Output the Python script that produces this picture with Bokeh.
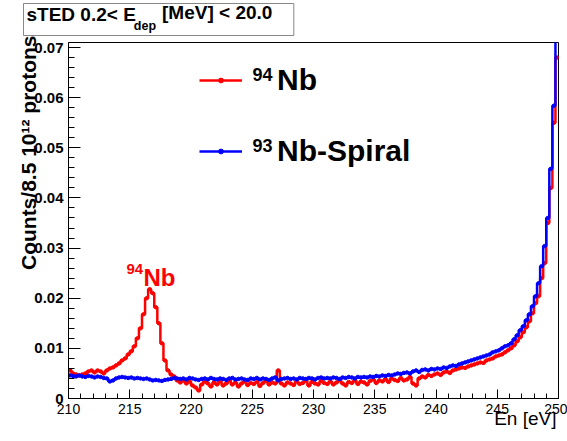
import numpy as np
from bokeh.plotting import figure
from bokeh.models import (Label, Legend, LegendItem, Range1d, Title,
                          SingleIntervalTicker, ColumnDataSource)
from bokeh.embed import file_html
from bokeh.resources import INLINE

# Histogram binning (neutron energy, eV)
e_low, e_high, bin_width = 210.0, 250.0, 0.25

# Counts per 8.5e12 protons, one value per 0.25 eV bin starting at 210 eV
nb94 = [
    0.0056, 0.0050, 0.0048, 0.0046, 0.0048, 0.0050, 0.0054, 0.0056, 0.0052, 0.0056, 0.0054, 0.0050,
    0.0056, 0.0060, 0.0062, 0.0066, 0.0070, 0.0076, 0.0080, 0.0088, 0.0094, 0.0104, 0.0120, 0.0140,
    0.0168, 0.0200, 0.0218, 0.0210, 0.0182, 0.0150, 0.0110, 0.0076, 0.0056, 0.0048, 0.0044, 0.0036,
    0.0032, 0.0036, 0.0030, 0.0034, 0.0026, 0.0022, 0.0016, 0.0028, 0.0034, 0.0030, 0.0024, 0.0032,
    0.0028, 0.0034, 0.0026, 0.0030, 0.0036, 0.0028, 0.0032, 0.0024, 0.0030, 0.0034, 0.0027, 0.0031,
    0.0029, 0.0033, 0.0025, 0.0031, 0.0035, 0.0028, 0.0032, 0.0030, 0.0056, 0.0030, 0.0026, 0.0032,
    0.0030, 0.0027, 0.0034, 0.0029, 0.0031, 0.0036, 0.0026, 0.0033, 0.0030, 0.0028, 0.0035, 0.0031,
    0.0029, 0.0034, 0.0028, 0.0032, 0.0037, 0.0030, 0.0026, 0.0033, 0.0031, 0.0036, 0.0029, 0.0034,
    0.0032, 0.0028, 0.0035, 0.0038, 0.0031, 0.0036, 0.0034, 0.0039, 0.0033, 0.0040, 0.0037, 0.0035,
    0.0041, 0.0036, 0.0038, 0.0043, 0.0030, 0.0026, 0.0040, 0.0044, 0.0042, 0.0047, 0.0045, 0.0048,
    0.0050, 0.0047, 0.0052, 0.0054, 0.0051, 0.0056, 0.0058, 0.0060, 0.0062, 0.0061, 0.0064, 0.0066,
    0.0068, 0.0070, 0.0072, 0.0071, 0.0076, 0.0078, 0.0080, 0.0084, 0.0086, 0.0088, 0.0092, 0.0096,
    0.0100, 0.0106, 0.0114, 0.0122, 0.0132, 0.0142, 0.0154, 0.0170, 0.0190, 0.0204, 0.0240, 0.0270,
    0.0350, 0.0420, 0.0550, 0.0680,
]

nb93_spiral = [
    0.0046, 0.0045, 0.0044, 0.0046, 0.0044, 0.0043, 0.0045, 0.0044, 0.0042, 0.0044, 0.0043, 0.0041,
    0.0040, 0.0034, 0.0036, 0.0040, 0.0042, 0.0043, 0.0042, 0.0041, 0.0042, 0.0040, 0.0041, 0.0040,
    0.0039, 0.0040, 0.0038, 0.0036, 0.0037, 0.0036, 0.0035, 0.0037, 0.0038, 0.0039, 0.0041, 0.0040,
    0.0039, 0.0040, 0.0038, 0.0041, 0.0040, 0.0038, 0.0037, 0.0039, 0.0040, 0.0038, 0.0041, 0.0039,
    0.0038, 0.0040, 0.0039, 0.0037, 0.0040, 0.0041, 0.0038, 0.0039, 0.0040, 0.0038, 0.0037, 0.0040,
    0.0039, 0.0041, 0.0038, 0.0040, 0.0039, 0.0037, 0.0040, 0.0042, 0.0036, 0.0039, 0.0040, 0.0041,
    0.0039, 0.0040, 0.0038, 0.0041, 0.0040, 0.0039, 0.0041, 0.0040, 0.0038, 0.0041, 0.0042, 0.0040,
    0.0041, 0.0040, 0.0042, 0.0041, 0.0039, 0.0042, 0.0041, 0.0043, 0.0042, 0.0040, 0.0043, 0.0042,
    0.0043, 0.0042, 0.0044, 0.0043, 0.0045, 0.0044, 0.0046, 0.0045, 0.0047, 0.0046, 0.0048, 0.0050,
    0.0049, 0.0051, 0.0052, 0.0050, 0.0054, 0.0056, 0.0053, 0.0057, 0.0058, 0.0056, 0.0059, 0.0058,
    0.0060, 0.0059, 0.0062, 0.0061, 0.0064, 0.0066, 0.0065, 0.0068, 0.0070, 0.0072, 0.0074, 0.0076,
    0.0078, 0.0080, 0.0082, 0.0084, 0.0086, 0.0088, 0.0092, 0.0094, 0.0096, 0.0100, 0.0104, 0.0106,
    0.0110, 0.0118, 0.0126, 0.0136, 0.0144, 0.0156, 0.0168, 0.0184, 0.0204, 0.0230, 0.0264, 0.0304,
    0.0360, 0.0458, 0.0584, 0.0760,
]

# Legend entries: mass number (superscript) and name
series_mass = ["94", "93"]
series_names = ["Nb", "Nb-Spiral"]
series_colors = ["#ff0000", "#0000ff"]

y_max = 0.0710
FONT = "Liberation Sans"

# Canvas geometry (pixels)
W, H = 567, 441
FL, FR, FT, FB = 68, 558, 42, 398


def sx(px):
    return e_low + (px - FL) * (e_high - e_low) / (FR - FL)


def sy(py):
    return (FB - py) * y_max / (FB - FT)


p = figure(width=W, height=H, output_backend="svg", toolbar_location=None,
           x_range=Range1d(e_low, e_high), y_range=Range1d(0, y_max),
           min_border_left=FL, min_border_right=W - FR,
           min_border_top=FT, min_border_bottom=H - FB)
p.background_fill_color = "white"
p.border_fill_color = "white"
p.outline_line_color = "black"
p.outline_line_width = 1
p.xgrid.visible = False
p.ygrid.visible = False

# Axes with inward ticks
p.xaxis.ticker = SingleIntervalTicker(interval=5, num_minor_ticks=5)
p.yaxis.ticker = SingleIntervalTicker(interval=0.01, num_minor_ticks=5)
for ax in (p.xaxis[0], p.yaxis[0]):
    ax.axis_line_color = "black"
    ax.major_tick_line_color = "black"
    ax.minor_tick_line_color = "black"
    ax.major_tick_out = 0
    ax.minor_tick_out = 0
    ax.major_label_text_font = FONT
    ax.major_label_text_color = "black"
p.xaxis.major_tick_in = 9
p.xaxis.minor_tick_in = 5
p.xaxis.major_label_text_font_size = "14px"
p.xaxis.major_label_standoff = 5
p.yaxis.major_tick_in = 12
p.yaxis.minor_tick_in = 6
p.yaxis.major_label_text_font_size = "15px"
p.yaxis.major_label_text_font_style = "bold"
p.yaxis.major_label_standoff = 5
p.yaxis.major_label_overrides = {0: "0"}

edges = e_low + bin_width * np.arange(len(nb94) + 1)
centers = edges[:-1] + bin_width / 2

legend_items = []
for vals, color, name in zip([nb94, nb93_spiral], series_colors, series_names):
    src = ColumnDataSource(dict(x=edges, y=list(vals) + [vals[-1]]))
    dots = ColumnDataSource(dict(x=centers, y=vals))
    r_line = p.step(x="x", y="y", source=src, mode="after", line_color=color, line_width=2.5)
    r_dot = p.scatter(x="x", y="y", source=dots, size=3.5, marker="circle",
                      fill_color=color, line_color=color)
    legend_items.append(LegendItem(label=name, renderers=[r_line, r_dot]))

leg_top = 60
legend = Legend(items=legend_items, location=(131, FB - leg_top - 111), padding=0, margin=0,
                spacing=31, glyph_width=43, glyph_height=12, label_height=40,
                label_standoff=35, label_text_font=FONT, label_text_font_size="30px",
                label_text_font_style="bold", label_text_color="black",
                border_line_alpha=0, background_fill_alpha=0)
p.add_layout(legend)

# superscript mass numbers in front of the legend names
for mass, base in zip(series_mass, [74, 145]):
    p.add_layout(Label(x=sx(252), y=sy(base), text=mass, text_font=FONT, text_font_size="18px",
                       text_font_style="bold", text_color="black", text_baseline="alphabetic"))

# Peak annotation
p.add_layout(Label(x=sx(126), y=sy(268), text="94", text_font=FONT, text_font_size="15px",
                   text_font_style="bold", text_color="#ff0000", text_baseline="alphabetic"))
p.add_layout(Label(x=sx(143), y=sy(277), text="Nb", text_font=FONT, text_font_size="24px",
                   text_font_style="bold", text_color="#ff0000", text_baseline="alphabetic"))

# Axis titles (top / right aligned)
p.add_layout(Title(text="Counts/8.5 10\u00b9\u00b2 protons", align="right", standoff=-16,
                   offset=-7, text_font=FONT, text_font_size="21px", text_font_style="bold",
                   text_color="black"), "left")
p.add_layout(Title(text="En [eV]", align="right", vertical_align="top", standoff=-18, offset=2,
                   text_font=FONT, text_font_size="19px", text_font_style="normal",
                   text_color="black"), "below")

# Title box: "sTED 0.2< E_dep [MeV] < 20.0"
title_size, sub_size, x_t, base_t = 19, 12.5, 23, 19
w_head = 5.753 * title_size
p.add_layout(Label(x=sx(x_t), y=sy(base_t), text="sTED 0.2< E", text_font=FONT,
                   text_font_size=f"{title_size}px", text_font_style="bold",
                   text_baseline="alphabetic", text_color="black",
                   padding=(3, int(291 - x_t - w_head), 0, x_t - 12),
                   border_line_color="#888888", border_line_width=1,
                   background_fill_alpha=0), "above")
x_sub = x_t + w_head + 1
p.add_layout(Label(x=sx(x_sub), y=sy(25), text="dep", text_font=FONT,
                   text_font_size=f"{sub_size}px", text_font_style="bold",
                   text_baseline="alphabetic", text_color="black"), "left")
x_rest = x_sub + 1.778 * sub_size + 6
p.add_layout(Title(text="[MeV] < 20.0", align="left", vertical_align="bottom",
                   offset=x_rest - FL, standoff=-24, text_font=FONT,
                   text_font_size=f"{title_size}px", text_font_style="bold",
                   text_color="black"), "above")

open("out.html", "w").write(file_html(p, INLINE))
